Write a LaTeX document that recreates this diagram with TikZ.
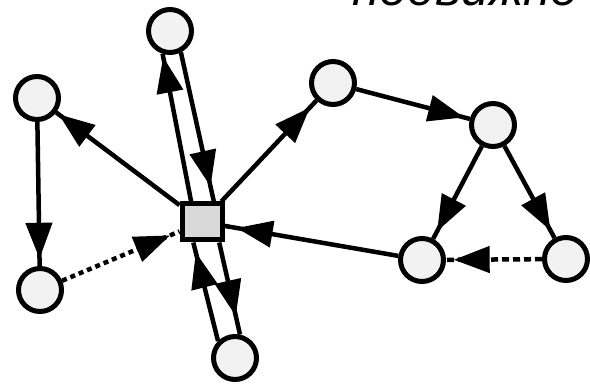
\documentclass[tikz,border=0pt]{standalone}
\usepackage{fontspec}
\newfontfamily\labelfont{Liberation Sans}
\usetikzlibrary{arrows.meta,decorations.markings}
\tikzset{
  vert/.style={circle, draw=black, line width=5pt, fill=gray!10, minimum size=43pt, inner sep=0pt},
  hub/.style={rectangle, draw=black, line width=5pt, fill=gray!30, minimum width=40pt, minimum height=36pt, inner sep=0pt},
  edge/.style={draw=black, line width=4.5pt},
  arrowpos/.style={decoration={markings, mark=at position #1 with {\arrow{Triangle[length=36pt,width=26pt]}}}, postaction={decorate}},
  dotline/.style={dash pattern=on 5pt off 4pt},
  dashline/.style={dash pattern=on 7pt off 4pt}
}
\begin{document}
\begin{tikzpicture}[x=1pt,y=-1pt]
\useasboundingbox (0,0) rectangle (590,385);
\clip (0,0) rectangle (590,385);
\node[anchor=base west, inner sep=0pt] (title) at (352,6) {\labelfont\itshape\fontsize{50}{56}\selectfont подвижно};
\node[hub] (S) at (202,222) {};
\node[vert] (A) at (170,31) {};
\node[vert] (B) at (37,98) {};
\node[vert] (C) at (333,83) {};
\node[vert] (D) at (493,125) {};
\node[vert] (E) at (422,260) {};
\node[vert] (F) at (566,259) {};
\node[vert] (G) at (40,290) {};
\node[vert] (H) at (235,358) {};
\path[edge, arrowpos=0.98] (S) -- (B);
\path[edge, arrowpos=0.98] (S.118) -- (A.252);
\path[edge, arrowpos=0.9] (A.297) -- (S.60);
\path[edge, arrowpos=0.93] (S) -- (C);
\path[edge, arrowpos=0.95] (C) -- (D);
\path[edge, arrowpos=0.92] (D) -- (E);
\path[edge, arrowpos=0.92] (D) -- (F);
\path[edge, dashline, arrowpos=0.92] (F) -- (E);
\path[edge, arrowpos=0.93] (E) -- (S);
\path[edge, arrowpos=0.95] (B) -- (G);
\path[edge, dotline, arrowpos=0.92] (G) -- (S);
\path[edge, arrowpos=0.9] (H.135) -- (S.247);
\path[edge, arrowpos=0.8] (S.310) -- (H.78);
\end{tikzpicture}
\end{document}
